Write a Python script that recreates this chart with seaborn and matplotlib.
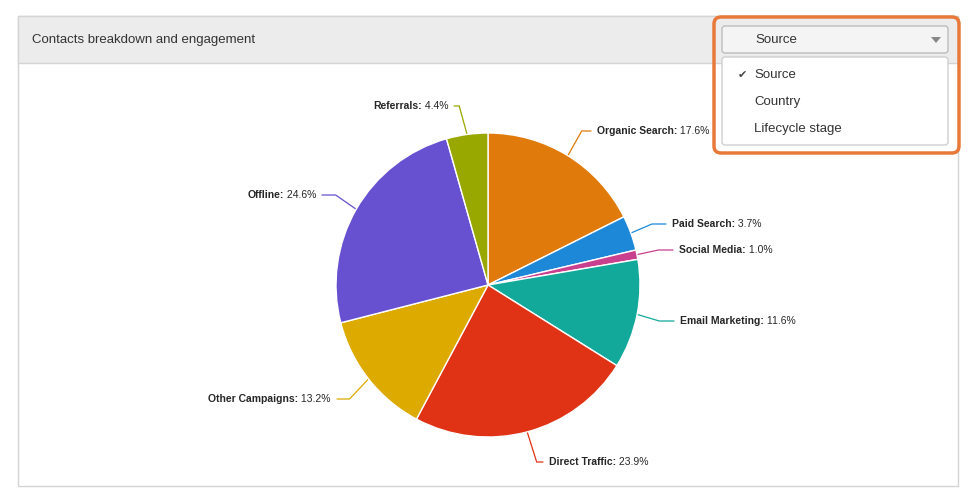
import matplotlib
matplotlib.use("Agg")
import matplotlib.pyplot as plt
import seaborn as sns
from matplotlib.patches import FancyBboxPatch, Rectangle, Polygon
import numpy as np

sns.set_theme(style="white")
plt.rcParams["font.family"] = "Liberation Sans"

# data
sources = ["Organic Search", "Paid Search", "Social Media", "Email Marketing",
           "Direct Traffic", "Other Campaigns", "Offline", "Referrals"]
shares = [17.6, 3.7, 1.0, 11.6, 23.9, 13.2, 24.6, 4.4]
colors = ["#e07a0a", "#1e88d8", "#c9408e", "#12a99a",
          "#e03214", "#ddaa00", "#6751d0", "#99a800"]
menu_items = ["Source", "Country", "Lifecycle stage"]
title = "Contacts breakdown and engagement"

# label anchor pixels (x, y, side)
label_pos = [(597, 131, "l"), (672, 224, "l"), (679, 250, "l"), (680, 321, "l"),
             (549, 462, "l"), (331, 399, "r"), (316, 195, "r"), (448, 106, "r")]

W, H = 977, 504
fig = plt.figure(figsize=(W / 100, H / 100), dpi=100)
bg = fig.add_axes([0, 0, 1, 1])
bg.set_xlim(0, W)
bg.set_ylim(H, 0)
bg.axis("off")

# panel
bg.add_patch(Rectangle((18, 16), 940, 470, fc="white", ec="#d4d4d4", lw=1))
bg.add_patch(Rectangle((18, 16), 940, 47, fc="#ececec", ec="#d4d4d4", lw=1))
bg.text(32, 40, title, fontsize=9.5, va="center", color="#333333")

# dropdown
bg.add_patch(FancyBboxPatch((714, 17), 245, 136, boxstyle="round,pad=0,rounding_size=7",
                            fc="none", ec="#e8793a", lw=2.5))
bg.add_patch(FancyBboxPatch((722, 26), 226, 27, boxstyle="round,pad=0,rounding_size=3",
                            fc="#f4f4f4", ec="#bdbdbd", lw=1))
bg.text(776, 40, "Source", fontsize=9.5, ha="center", va="center", color="#333333")
bg.add_patch(Polygon([(931, 37), (941, 37), (936, 43)], closed=True, fc="#888888", ec="none"))
bg.add_patch(FancyBboxPatch((722, 57), 226, 88, boxstyle="round,pad=0,rounding_size=3",
                            fc="white", ec="#cfcfcf", lw=1))
bg.text(742, 75, "\u2714", fontsize=8, ha="center", va="center", color="#444444",
        fontfamily="DejaVu Sans")
for i, item in enumerate(menu_items):
    bg.text(754, 75 + 27 * i, item, fontsize=9.5, va="center", color="#333333")

# pie
cx, cy, r = 488, 285, 152
ax = fig.add_axes([(cx - r) / W, (H - cy - r) / H, 2 * r / W, 2 * r / H])
wedges, _ = ax.pie(shares, colors=colors, startangle=90, counterclock=False,
                   wedgeprops=dict(edgecolor="white", linewidth=1))
ax.set_xlim(-1, 1)
ax.set_ylim(-1, 1)
ax.set_aspect("equal")
ax.axis("off")

for w, name, val, (px, py, side) in zip(wedges, sources, shares, label_pos):
    mid = np.deg2rad((w.theta1 + w.theta2) / 2)
    ex, ey = cx + r * np.cos(mid), cy - r * np.sin(mid)
    lx = px - 6 if side == "l" else px + 6
    bx = ex + (lx - ex) * 0.6
    bg.plot([ex, bx, lx], [ey, py, py], color=w.get_facecolor(), lw=0.9)
    if side == "l":
        t = bg.text(px, py, name + ":", fontsize=7.5, fontweight="bold", va="center", ha="left")
        bg.annotate(f" {val:.1f}%", xy=(1, 0.5), xycoords=t, fontsize=7.5, va="center", ha="left")
    else:
        t = bg.text(px, py, f" {val:.1f}%", fontsize=7.5, va="center", ha="right")
        bg.annotate(name + ":", xy=(0, 0.5), xycoords=t, fontsize=7.5, fontweight="bold",
                    va="center", ha="right")

fig.savefig("out.png", dpi=100, facecolor="white")
